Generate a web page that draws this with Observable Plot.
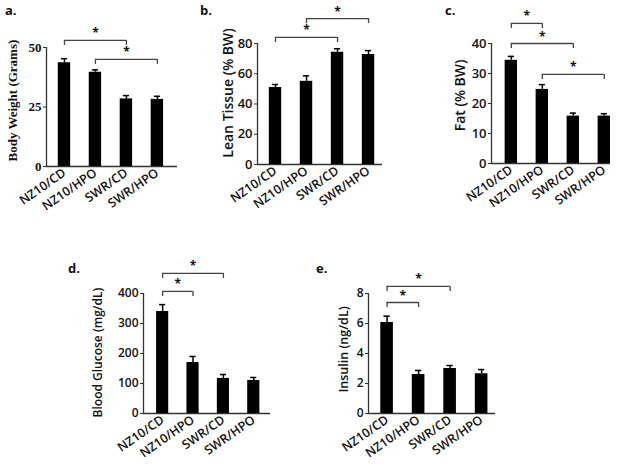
<!DOCTYPE html>
<html><head><meta charset="utf-8">
<script src="https://cdn.jsdelivr.net/npm/d3@7"></script>
<script src="https://cdn.jsdelivr.net/npm/@observablehq/plot@0.6"></script>
<style>
html,body{margin:0;padding:0;background:#fff}
#root{position:relative;width:624px;height:468px;overflow:hidden;background:#fff}
.panel{position:absolute}
.panel svg{overflow:visible}
.letter{position:absolute;font-family:"Open Sans",sans-serif;font-weight:700;font-size:13px;color:#111;line-height:1}
</style></head><body>
<div id="root"></div>
<script>
// ---- data ----
const categories = ["NZ10/CD", "NZ10/HPO", "SWR/CD", "SWR/HPO"];

const bodyWeight = [43.6, 39.6, 28.4, 28.2];
const bodyWeightErr = [1.7, 1.0, 1.4, 1.3];
const bodyWeightTicks = [0, 25, 50];
const bodyWeightSig = [[0, 2, 53], [1, 3, 45]];

const leanTissue = [50.9, 55.0, 74.2, 72.7];
const leanTissueErr = [2.0, 3.6, 2.3, 2.6];
const leanTissueTicks = [0, 20, 40, 60, 80];
const leanTissueSig = [[0, 2, 84], [1, 3, 96.5]];

const fat = [34.4, 24.7, 15.8, 15.8];
const fatErr = [1.3, 1.6, 1.0, 0.8];
const fatTicks = [0, 10, 20, 30, 40];
const fatSig = [[0, 1, 46.7], [0, 2, 40], [1, 3, 29.7]];

const glucose = [340, 170, 117, 110];
const glucoseErr = [23, 20, 13, 10];
const glucoseTicks = [0, 100, 200, 300, 400];
const glucoseSig = [[0, 2, 467], [0, 1, 407]];

const insulin = [6.07, 2.6, 3.0, 2.65];
const insulinErr = [0.42, 0.27, 0.2, 0.28];
const insulinTicks = [0, 2, 4, 6, 8];
const insulinSig = [[0, 2, 8.47], [0, 1, 7.4]];

// ---- drawing ----
const root = document.getElementById("root");
const sans = "'Open Sans', sans-serif";
const serif = "'Liberation Serif', serif";

function panel(o) {
  const yMax = d3.max(o.ticks);
  const data = categories.map((c, i) => ({i, c, v: o.values[i], e: o.errs[i]}));
  const sig = o.sig.map(([a, b, y]) => ({a, b, y, mid: (a + b) / 2}));
  const ends = sig.flatMap(s => [{x: s.a, y: s.y}, {x: s.b, y: s.y}]);
  const drop = yMax * 0.042;
  const axisColor = "#333";
  const chart = Plot.plot({
    width: o.width, height: o.height,
    marginLeft: o.mL, marginTop: o.mT, marginRight: o.mR, marginBottom: o.mB,
    style: {background: "transparent", color: "#111", fontFamily: sans, fontSize: "12px", overflow: "visible"},
    x: {domain: o.xDomain, axis: null},
    y: {domain: [0, yMax], axis: null},
    marks: [
      Plot.axisY({ticks: o.ticks, tickSize: 3, tickPadding: 2, label: null, stroke: axisColor,
        fontFamily: o.tickFont || sans, fontSize: o.tickSize || 12, fontWeight: 600, fill: "#111"}),
      Plot.axisX({ticks: categories.map((_, i) => i), tickFormat: i => categories[i], tickSize: 0,
        tickPadding: 5, tickRotate: -35, label: null, fontFamily: sans, fontSize: 12.5, fontWeight: 600, fill: "#111"}),
      Plot.text([o.label], {frameAnchor: "left", y: () => o.labelY, rotate: -90, dx: -o.labelOffset,
        textAnchor: "middle", lineAnchor: "middle",
        fontFamily: o.labelFont || sans, fontSize: o.labelSize || 12, fontWeight: 600, fill: "#111"}),
      Plot.ruleX([o.xDomain[0]], {y1: 0, y2: yMax, stroke: axisColor, strokeWidth: 1.3}),
      Plot.ruleY([0], {stroke: axisColor, strokeWidth: 1.3}),
      Plot.rectY(data, {x1: d => d.i - 0.2, x2: d => d.i + 0.2, y: "v", fill: "#000"}),
      Plot.ruleX(data, {x: "i", y1: "v", y2: d => d.v + d.e, stroke: "#000", strokeWidth: 1.5}),
      Plot.ruleY(data, {y: d => d.v + d.e, x1: d => d.i - 0.1, x2: d => d.i + 0.1, stroke: "#000", strokeWidth: 1.5}),
      Plot.ruleY(sig, {y: "y", x1: "a", x2: "b", stroke: "#444", strokeWidth: 1.3}),
      Plot.ruleX(ends, {x: "x", y1: "y", y2: d => d.y - drop, stroke: "#444", strokeWidth: 1.3}),
      Plot.text(sig, {x: "mid", y: "y", text: () => "*", dy: -3, lineAnchor: "bottom",
        fontSize: 12, fontWeight: 700, fill: "#111", fontFamily: sans})
    ]
  });
  const div = document.createElement("div");
  div.className = "panel";
  div.style.left = o.left + "px";
  div.style.top = o.top + "px";
  div.appendChild(chart);
  root.appendChild(div);
  const letter = document.createElement("div");
  letter.className = "letter";
  letter.textContent = o.letter;
  letter.style.left = o.letterX + "px";
  letter.style.top = o.letterY + "px";
  root.appendChild(letter);
}

panel({letter: "a.", letterX: 5, letterY: 4, left: 0, top: 0, width: 200, height: 240,
  mL: 46, mT: 47, mR: 23, mB: 74, xDomain: [-0.58, 3.65],
  values: bodyWeight, errs: bodyWeightErr, ticks: bodyWeightTicks, sig: bodyWeightSig,
  label: "Body Weight (Grams)", labelY: 27.7, labelOffset: 34,
  labelFont: serif, labelSize: 13, tickFont: serif, tickSize: 13});

panel({letter: "b.", letterX: 200, letterY: 4, left: 200, top: 0, width: 200, height: 240,
  mL: 57, mT: 43, mR: 18, mB: 76, xDomain: [-0.58, 3.45],
  values: leanTissue, errs: leanTissueErr, ticks: leanTissueTicks, sig: leanTissueSig,
  label: "Lean Tissue (% BW)", labelY: 47.3, labelOffset: 29, labelSize: 14, tickSize: 13});

panel({letter: "c.", letterX: 445, letterY: 4, left: 410, top: 0, width: 214, height: 240,
  mL: 81, mT: 43, mR: 14, mB: 77, xDomain: [-0.64, 3.2],
  values: fat, errs: fatErr, ticks: fatTicks, sig: fatSig,
  label: "Fat (% BW)", labelY: 22.7, labelOffset: 31, labelSize: 14, tickSize: 13});

panel({letter: "d.", letterX: 68, letterY: 262, left: 0, top: 240, width: 300, height: 228,
  mL: 143, mT: 53, mR: 30, mB: 55, xDomain: [-0.63, 3.55],
  values: glucose, errs: glucoseErr, ticks: glucoseTicks, sig: glucoseSig,
  label: "Blood Glucose (mg/dL)", labelY: 203, labelOffset: 45});

panel({letter: "e.", letterX: 316, letterY: 262, left: 300, top: 240, width: 324, height: 228,
  mL: 68, mT: 53, mR: 129, mB: 55, xDomain: [-0.59, 3.44],
  values: insulin, errs: insulinErr, ticks: insulinTicks, sig: insulinSig,
  label: "Insulin (ng/dL)", labelY: 4.27, labelOffset: 25, labelSize: 12.5});
</script>
</body></html>
